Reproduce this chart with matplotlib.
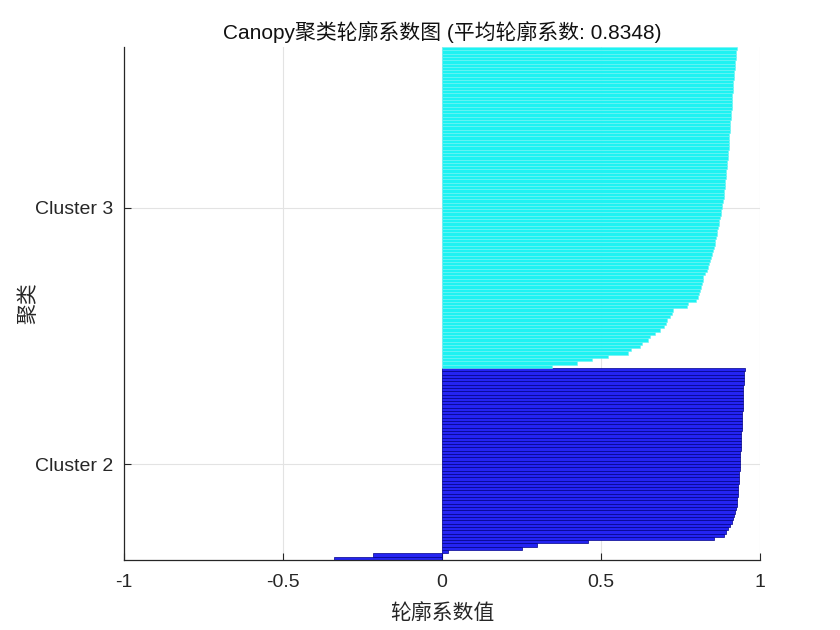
import matplotlib
matplotlib.use("Agg")
import matplotlib.pyplot as plt
import numpy as np

plt.rcParams['font.family'] = ['Liberation Sans', 'Noto Sans CJK SC', 'DejaVu Sans']

# Silhouette values, sorted ascending (bottom to top) within each cluster
cluster2_vals = [
    -0.340, -0.217, 0.018, 0.250, 0.300, 0.460,
    0.855, 0.887, 0.893, 0.900, 0.906, 0.911, 0.915, 0.919, 0.922, 0.925,
    0.927, 0.928, 0.929, 0.930, 0.931, 0.932, 0.932, 0.933, 0.934, 0.935,
    0.935, 0.936, 0.936, 0.937, 0.937, 0.938, 0.938, 0.939, 0.939, 0.940,
    0.940, 0.941, 0.941, 0.942, 0.942, 0.943, 0.943, 0.944, 0.944, 0.945,
    0.945, 0.946, 0.946, 0.947, 0.947, 0.948, 0.948, 0.949, 0.950, 0.950,
    0.951, 0.953,
]
cluster3_vals = [
    0.345, 0.424, 0.471, 0.522, 0.586, 0.593, 0.623, 0.628, 0.648, 0.654,
    0.670, 0.686, 0.698, 0.704, 0.709, 0.717, 0.722, 0.727, 0.769, 0.775,
    0.800, 0.806, 0.809, 0.811, 0.814, 0.817, 0.820, 0.822, 0.827, 0.832,
    0.837, 0.840, 0.844, 0.847, 0.850, 0.853, 0.855, 0.857, 0.860, 0.862,
    0.864, 0.866, 0.868, 0.870, 0.872, 0.874, 0.876, 0.878, 0.880, 0.882,
    0.885, 0.886, 0.887, 0.888, 0.889, 0.890, 0.891, 0.892, 0.893, 0.894,
    0.895, 0.896, 0.897, 0.898, 0.899, 0.900, 0.901, 0.902, 0.903, 0.904,
    0.904, 0.905, 0.906, 0.907, 0.907, 0.908, 0.909, 0.910, 0.911, 0.911,
    0.912, 0.913, 0.913, 0.914, 0.915, 0.915, 0.916, 0.917, 0.918, 0.919,
    0.920, 0.921, 0.922, 0.923, 0.924, 0.925, 0.927,
]
cluster_labels = ['Cluster 2', 'Cluster 3']
x_ticks = [-1, -0.5, 0, 0.5, 1]
x_tick_labels = ['-1', '-0.5', '0', '0.5', '1']
title = 'Canopy聚类轮廓系数图 (平均轮廓系数: 0.8348)'

fig = plt.figure(figsize=(8.4, 6.3), dpi=100)
ax = fig.add_axes([124/840, 70/630, 636/840, 513/630])

n2 = len(cluster2_vals)
n3 = len(cluster3_vals)
y2 = np.arange(1, n2 + 1)
y3 = np.arange(n2 + 1, n2 + n3 + 1)

ax.barh(y2, cluster2_vals, height=1.0, color='#2424f2', edgecolor='#00008a', linewidth=0.5, zorder=2)
ax.barh(y3, cluster3_vals, height=1.0, color='#1ef2f2', edgecolor='#6ff3f3', linewidth=0.4, zorder=2)

ax.set_xlim(-1, 1)
ax.set_ylim(0.5, n2 + n3 + 0.5)
ax.set_xticks(x_ticks)
ax.set_xticklabels(x_tick_labels)
ax.set_yticks([(1 + n2) / 2, n2 + (1 + n3) / 2])
ax.set_yticklabels(cluster_labels)

ax.set_axisbelow(True)
ax.grid(True, color='#e3e3e3', linewidth=0.8, zorder=0)

for s in ['top', 'right']:
    ax.spines[s].set_visible(False)
for s in ['left', 'bottom']:
    ax.spines[s].set_color('#262626')
    ax.spines[s].set_linewidth(0.9)

ax.tick_params(direction='in', length=5, width=0.8, colors='#262626', labelsize=14, pad=8)
ax.tick_params(axis='x', pad=10)

ax.set_title(title, fontsize=15, color='#111111', pad=6)
ax.set_xlabel('轮廓系数值', fontsize=15, color='#262626', labelpad=9)
ax.set_ylabel('聚类', fontsize=15, color='#262626', labelpad=-3)

fig.savefig('out.png', dpi=100)
